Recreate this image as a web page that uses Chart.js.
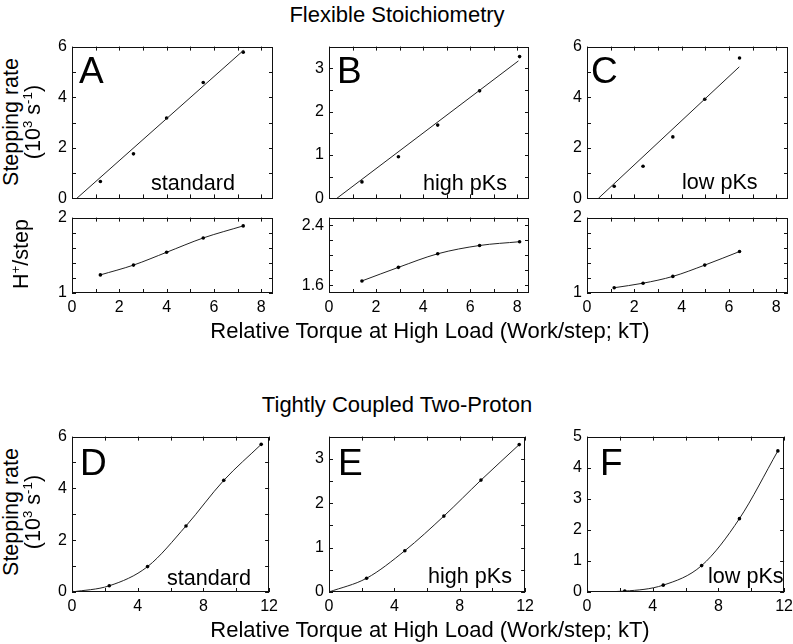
<!DOCTYPE html>
<html>
<head>
<meta charset="utf-8">
<script src="https://cdn.jsdelivr.net/npm/chart.js@4.4.0/dist/chart.umd.min.js"></script>
<style>
body { margin: 0; background: #fff; width: 793px; height: 644px; position: relative; overflow: hidden;
       font-family: "Liberation Sans", Arial, sans-serif; color: #000; }
canvas { position: absolute; }
.t { position: absolute; white-space: nowrap; line-height: 1; }
.c { transform: translate(-50%, -50%); }
.r { transform: translate(-50%, -50%) rotate(-90deg); }
sup { font-size: 0.62em; vertical-align: baseline; position: relative; top: -0.6em; }
</style>
</head>
<body>
<script>
// panel A - flexible, standard
const xA = [1.2, 2.6, 4.0, 5.55, 7.24];
const yA = [0.67, 1.76, 3.18, 4.58, 5.78];
const fitAx = [0.2, 7.25];
const fitAy = [0, 5.85];
const hA = [1.24, 1.37, 1.54, 1.73, 1.89];

// panel B - flexible, high pKs
const xB = [1.4, 2.95, 4.62, 6.4, 8.1];
const yB = [0.38, 0.96, 1.69, 2.48, 3.27];
const fitBx = [0.33, 8.05];
const fitBy = [0, 3.17];
const hB = [1.66, 1.84, 2.02, 2.13, 2.18];

// panel C - flexible, low pKs
const xC = [1.15, 2.37, 3.63, 4.98, 6.45];
const yC = [0.48, 1.27, 2.43, 3.92, 5.55];
const fitCx = [0.48, 6.44];
const fitCy = [0, 5.2];
const hC = [1.07, 1.13, 1.22, 1.37, 1.55];

// panels D, E, F - tightly coupled
const xD = [0, 2.27, 4.6, 6.94, 9.24, 11.52];
const yD = [0, 0.24, 0.98, 2.55, 4.31, 5.7];
const xE = [0, 2.3, 4.64, 7.03, 9.3, 11.64];
const yE = [0, 0.31, 0.93, 1.71, 2.52, 3.32];
const xF = [0, 2.3, 4.64, 6.98, 9.28, 11.62];
const yF = [0, 0.03, 0.22, 0.85, 2.36, 4.54];

// ticks
const ticks8 = [0, 1, 2, 3, 4, 5, 6, 7, 8];
const labels8 = [0, 2, 4, 6, 8];
const ticks12 = [0, 2, 4, 6, 8, 10, 12];
const labels12 = [0, 4, 8, 12];
const ticks6 = [0, 1, 2, 3, 4, 5, 6];
const labels6 = [0, 2, 4, 6];
const ticks35 = [0, 0.5, 1, 1.5, 2, 2.5, 3, 3.5];
const labels35 = [0, 1, 2, 3];
const ticks5 = [0, 1, 2, 3, 4, 5];
const labels5 = [0, 1, 2, 3, 4, 5];
const ticksH = [1, 1.2, 1.4, 1.6, 1.8, 2];
const labelsH = [1, 2];
const ticksHB = [1.6, 1.8, 2, 2.2, 2.4];
const labelsHB = [1.6, 2.4];

const YW = 34, PT = 10, PR = 10;
const tickFont = { family: '"Liberation Sans", Arial, sans-serif', size: 16 };

const framePlugin = {
    id: 'frame',
    afterDatasetsDraw(chart) {
        const { ctx, chartArea: a, scales: { x, y } } = chart;
        ctx.save();
        ctx.strokeStyle = '#111';
        ctx.lineWidth = 1;
        ctx.beginPath();
        x.ticks.forEach(t => {
            const px = Math.round(x.getPixelForValue(t.value)) + 0.5;
            ctx.moveTo(px, a.bottom); ctx.lineTo(px, a.bottom - 4);
            ctx.moveTo(px, a.top); ctx.lineTo(px, a.top + 4);
        });
        y.ticks.forEach(t => {
            const py = Math.round(y.getPixelForValue(t.value)) + 0.5;
            ctx.moveTo(a.left, py); ctx.lineTo(a.left + 4, py);
            ctx.moveTo(a.right, py); ctx.lineTo(a.right - 4, py);
        });
        ctx.stroke();
        ctx.strokeRect(Math.round(a.left) + 0.5, Math.round(a.top) + 0.5,
                       Math.round(a.right - a.left) - 1, Math.round(a.bottom - a.top) - 1);
        ctx.restore();
    }
};

function zip(xs, ys) {
    return xs.map((v, i) => ({ x: v, y: ys[i] }));
}

function panel(box, cfg) {
    const [L, T, R, B] = box;
    const xh = cfg.xLabels ? 26 : 0;
    const pb = cfg.xLabels ? 0 : 10;
    const cv = document.createElement('canvas');
    cv.width = R - L + YW + PR;
    cv.height = B - T + PT + xh + pb;
    cv.style.left = (L - YW) + 'px';
    cv.style.top = (T - PT) + 'px';
    document.body.appendChild(cv);

    const datasets = [];
    if (cfg.fitX) {
        datasets.push({
            data: zip(cfg.fitX, cfg.fitY), showLine: true, pointRadius: 0,
            borderColor: '#222', borderWidth: 1
        });
    }
    datasets.push({
        data: zip(cfg.xs, cfg.ys), showLine: !!cfg.curve, cubicInterpolationMode: 'monotone',
        pointRadius: 1.8, pointBorderWidth: 0, pointBackgroundColor: '#000',
        borderColor: '#222', borderWidth: 1
    });

    new Chart(cv, {
        type: 'line',
        data: { datasets },
        options: {
            responsive: false,
            animation: false,
            layout: { padding: { top: PT, right: PR, bottom: pb, left: 0 } },
            plugins: { legend: { display: false }, tooltip: { enabled: false } },
            scales: {
                x: {
                    type: 'linear', min: cfg.xMin, max: cfg.xMax,
                    grid: { display: false, drawTicks: false }, border: { display: false },
                    afterBuildTicks: s => { s.ticks = cfg.xTicks.map(v => ({ value: v })); },
                    afterFit: s => { s.height = xh; },
                    ticks: {
                        display: !!cfg.xLabels, padding: 5, font: tickFont, color: '#000',
                        maxRotation: 0, autoSkip: false,
                        callback: v => (cfg.xLabels && cfg.xLabels.includes(v)) ? String(v) : ''
                    }
                },
                y: {
                    type: 'linear', min: cfg.yMin, max: cfg.yMax,
                    grid: { display: false, drawTicks: false }, border: { display: false },
                    afterBuildTicks: s => { s.ticks = cfg.yTicks.map(v => ({ value: v })); },
                    afterFit: s => { s.width = YW; },
                    ticks: {
                        padding: 5, font: tickFont, color: '#000', autoSkip: false,
                        callback: v => cfg.yLabels.includes(v) ? String(v) : ''
                    }
                }
            }
        },
        plugins: [framePlugin]
    });
}

function text(html, x, baseline, size, extra) {
    const d = document.createElement('div');
    d.className = 't';
    d.innerHTML = html;
    d.style.fontSize = size + 'px';
    d.style.left = x + 'px';
    d.style.top = (baseline - 0.8465 * size) + 'px';
    if (extra) Object.assign(d.style, extra);
    document.body.appendChild(d);
}

function centered(html, x, y, size, rotate) {
    const d = document.createElement('div');
    d.className = 't ' + (rotate ? 'r' : 'c');
    d.innerHTML = html;
    d.style.fontSize = size + 'px';
    d.style.left = x + 'px';
    d.style.top = y + 'px';
    document.body.appendChild(d);
}

// top block: flexible stoichiometry
panel([72, 42, 273, 203], { xs: xA, ys: yA, fitX: fitAx, fitY: fitAy, xMin: 0, xMax: 8.5, yMin: 0, yMax: 6,
    xTicks: ticks8, yTicks: ticks6, yLabels: labels6 });
panel([329, 42, 529, 203], { xs: xB, ys: yB, fitX: fitBx, fitY: fitBy, xMin: 0, xMax: 8.5, yMin: 0, yMax: 3.5,
    xTicks: ticks8, yTicks: ticks35, yLabels: labels35 });
panel([587, 42, 788, 203], { xs: xC, ys: yC, fitX: fitCx, fitY: fitCy, xMin: 0, xMax: 8.5, yMin: 0, yMax: 6,
    xTicks: ticks8, yTicks: ticks6, yLabels: labels6 });

panel([72, 213, 273, 293], { xs: xA, ys: hA, curve: true, xMin: 0, xMax: 8.5, yMin: 1, yMax: 2,
    xTicks: ticks8, xLabels: labels8, yTicks: ticksH, yLabels: labelsH });
panel([329, 213, 529, 293], { xs: xB, ys: hB, curve: true, xMin: 0, xMax: 8.5, yMin: 1.5, yMax: 2.5,
    xTicks: ticks8, xLabels: labels8, yTicks: ticksHB, yLabels: labelsHB });
panel([587, 213, 788, 293], { xs: xC, ys: hC, curve: true, xMin: 0, xMax: 8.5, yMin: 1, yMax: 2,
    xTicks: ticks8, xLabels: labels8, yTicks: ticksH, yLabels: labelsH });

// bottom block: tightly coupled two-proton
panel([72, 432, 273, 592], { xs: xD, ys: yD, curve: true, xMin: 0, xMax: 12, yMin: 0, yMax: 6,
    xTicks: ticks12, xLabels: labels12, yTicks: ticks6, yLabels: labels6 });
panel([329, 432, 529, 592], { xs: xE, ys: yE, curve: true, xMin: 0, xMax: 12, yMin: 0, yMax: 3.5,
    xTicks: ticks12, xLabels: labels12, yTicks: ticks35, yLabels: labels35 });
panel([587, 432, 788, 592], { xs: xF, ys: yF, curve: true, xMin: 0, xMax: 12, yMin: 0, yMax: 5,
    xTicks: ticks12, xLabels: labels12, yTicks: ticks5, yLabels: labels5 });

// titles
centered('Flexible Stoichiometry', 397, 15, 22);
centered('Tightly Coupled Two-Proton', 397, 405, 22);
centered('Relative Torque at High Load (Work/step; kT)', 430, 331, 22);
centered('Relative Torque at High Load (Work/step; kT)', 430, 630, 22);

centered('Stepping rate', 12, 122, 21.5, true);
centered('(10<sup>3</sup> s<sup>-1</sup>)', 34, 122, 21.5, true);
centered('H<sup>+</sup>/step', 22, 254, 21.5, true);
centered('Stepping rate', 12, 512, 21.5, true);
centered('(10<sup>3</sup> s<sup>-1</sup>)', 34, 512, 21.5, true);

// panel letters
text('A', 79, 83, 37);
text('B', 337, 83, 37);
text('C', 591, 83, 37);
text('D', 80, 475, 37);
text('E', 338, 475, 37);
text('F', 600, 475, 37);

// condition labels
text('standard', 151, 190, 21.6);
text('high pKs', 423, 190, 21.6);
text('low pKs', 682, 189, 21.6);
text('standard', 167, 585, 21.6);
text('high pKs', 428, 583, 21.6);
text('low pKs', 708, 583, 21.6);
</script>
</body>
</html>
